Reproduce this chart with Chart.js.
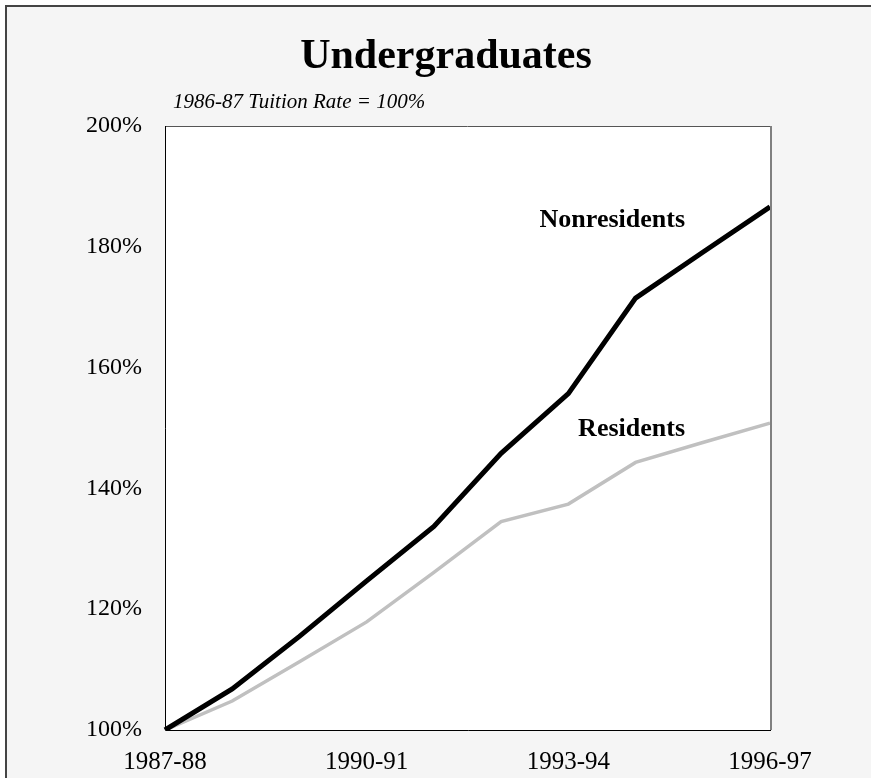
<!DOCTYPE html>
<html>
<head>
<meta charset="utf-8">
<script src="https://cdn.jsdelivr.net/npm/chart.js@4"></script>
<style>
html,body{margin:0;padding:0;background:#ffffff;}
#wrap{width:871px;height:778px;position:relative;}
</style>
</head>
<body>
<div id="wrap"><canvas id="c" width="871" height="778"></canvas></div>
<script>
const categories = ["1987-88","1988-89","1989-90","1990-91","1991-92","1992-93","1993-94","1994-95","1995-96","1996-97"];
const nonresidents = [100, 106.8, 115.5, 124.7, 133.7, 145.8, 155.7, 171.5, 179.1, 186.6];
const residents = [100, 104.8, 111.3, 117.9, 126.1, 134.5, 137.4, 144.3, 147.6, 150.8];
const yTicks = [100, 120, 140, 160, 180, 200];
const titleText = "Undergraduates";
const subtitleText = "1986-87 Tuition Rate = 100%";

const SERIF = "'Liberation Serif', 'Times New Roman', 'DejaVu Serif', serif";
Chart.defaults.font.family = SERIF;
Chart.defaults.color = "#000";

const decor = {
  id: 'decor',
  beforeDraw(chart) {
    const ctx = chart.ctx, a = chart.chartArea;
    ctx.save();
    ctx.fillStyle = '#ffffff';
    ctx.fillRect(0, 0, chart.width, chart.height);
    ctx.fillStyle = '#f5f5f5';
    ctx.fillRect(7, 7, chart.width - 7, chart.height - 7);
    ctx.strokeStyle = '#444444';
    ctx.lineWidth = 2;
    ctx.beginPath();
    ctx.moveTo(6, chart.height);
    ctx.lineTo(6, 6);
    ctx.lineTo(chart.width, 6);
    ctx.stroke();
    ctx.fillStyle = '#ffffff';
    ctx.fillRect(a.left, a.top, a.right - a.left, a.bottom - a.top);
    ctx.restore();
  },
  afterDatasetsDraw(chart) {
    const ctx = chart.ctx, a = chart.chartArea;
    ctx.save();
    ctx.lineWidth = 1;
    ctx.strokeStyle = '#555555';
    ctx.beginPath();
    ctx.moveTo(a.left, a.top + 0.5);
    ctx.lineTo(a.right, a.top + 0.5);
    ctx.stroke();
    ctx.strokeStyle = '#808080';
    ctx.lineWidth = 2;
    ctx.beginPath();
    ctx.moveTo(a.right + 1, a.top);
    ctx.lineTo(a.right + 1, a.bottom);
    ctx.stroke();
    ctx.strokeStyle = '#000000';
    ctx.lineWidth = 1;
    ctx.beginPath();
    ctx.moveTo(a.left + 0.5, a.top);
    ctx.lineTo(a.left + 0.5, a.bottom + 0.5);
    ctx.lineTo(a.right + 1, a.bottom + 0.5);
    ctx.stroke();
  },
  afterDraw(chart) {
    const ctx = chart.ctx;
    ctx.save();
    ctx.fillStyle = '#000';
    ctx.textBaseline = 'alphabetic';
    ctx.textAlign = 'center';
    ctx.font = "bold 42px " + SERIF;
    ctx.fillText(titleText, 446, 68);
    ctx.textAlign = 'left';
    ctx.font = "italic 21px " + SERIF;
    ctx.fillText(subtitleText, 173, 108);
    ctx.font = "bold 26px " + SERIF;
    ctx.textAlign = 'right';
    ctx.fillText("Nonresidents", 685, 227);
    ctx.fillText("Residents", 685, 436);
    ctx.restore();
  }
};

new Chart(document.getElementById('c'), {
  type: 'line',
  data: {
    labels: categories,
    datasets: [
      { label: 'Nonresidents', data: nonresidents, borderColor: '#000000', borderWidth: 5, pointRadius: 0, tension: 0, fill: false, borderCapStyle: 'butt', borderJoinStyle: 'miter' },
      { label: 'Residents', data: residents, borderColor: '#c0c0c0', borderWidth: 3.5, pointRadius: 0, tension: 0, fill: false }
    ]
  },
  options: {
    responsive: false,
    animation: false,
    events: [],
    layout: { padding: { top: 126, right: 101, bottom: 0, left: 0 } },
    plugins: { legend: { display: false }, title: { display: false }, tooltip: { enabled: false } },
    scales: {
      x: {
        type: 'category',
        offset: false,
        grid: { display: false, drawTicks: false },
        border: { display: false },
        ticks: {
          autoSkip: false, maxRotation: 0, minRotation: 0, padding: 17,
          font: { size: 25 }, color: '#000',
          callback: function(v, i) { return i % 3 === 0 ? categories[i] : ''; }
        },
        afterFit: function(s) { s.height = 48; }
      },
      y: {
        min: yTicks[0], max: yTicks[yTicks.length - 1],
        grid: { display: false, drawTicks: false },
        border: { display: false },
        afterBuildTicks: function(s) { s.ticks = yTicks.map(v => ({ value: v })); },
        ticks: {
          padding: 23, font: { size: 24 }, color: '#000',
          callback: function(v) { return v + '%'; }
        },
        afterFit: function(s) { s.width = 165; }
      }
    }
  },
  plugins: [decor]
});
</script>
</body>
</html>
